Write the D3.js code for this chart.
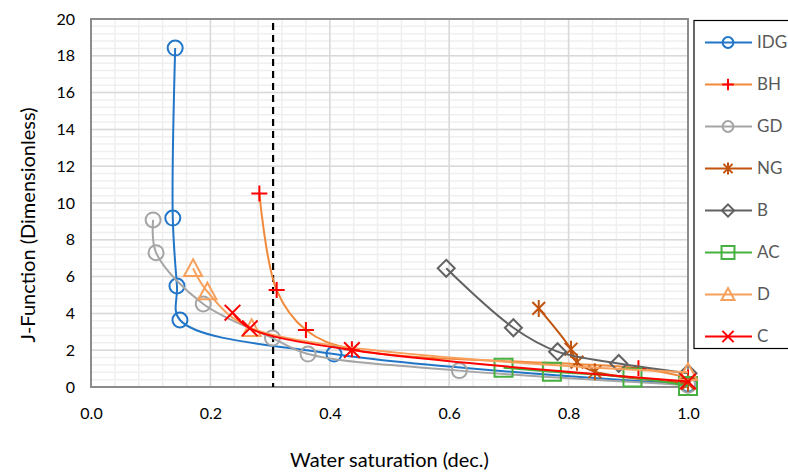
<!DOCTYPE html>
<html>
<head>
<meta charset="utf-8">
<script src="https://cdn.jsdelivr.net/npm/d3@7"></script>
<style>
    body { margin: 0; background: #fff; }
    svg { display: block; font-family: Lato, "Open Sans", sans-serif; }
</style>
</head>
<body>
<div id="wrapper"></div>
<script>
// tick labels
const xTickValues = [0, 0.2, 0.4, 0.6, 0.8, 1.0]
const yTickValues = [0, 2, 4, 6, 8, 10, 12, 14, 16, 18, 20]

// [water saturation, J-function]
const IDG = [[0.141, 18.42], [0.137, 9.18], [0.144, 5.49], [0.149, 3.64], [0.407, 1.79], [1.0, 0.15]]
const BH = [[0.282, 10.52], [0.311, 5.27], [0.360, 3.10], [0.437, 2.05], [0.917, 1.02], [1.0, 0.5]]
const GD = [[0.104, 9.08], [0.109, 7.30], [0.188, 4.51], [0.304, 2.66], [0.3635, 1.79], [0.617, 0.89], [1.0, 0.1]]
const NG = [[0.750, 4.27], [0.804, 2.05], [0.814, 1.35], [0.844, 0.83], [1.0, 0.2]]
const B = [[0.595, 6.45], [0.7075, 3.22], [0.7815, 1.92], [0.884, 1.28], [1.0, 0.75]]
const AC = [[0.691, 1.05], [0.772, 0.83], [0.907, 0.51], [1.0, 0.05]]
const D = [[0.171, 6.45], [0.195, 5.18], [0.269, 3.19], [1.0, 0.8]]
const C = [[0.237, 4.04], [0.266, 3.19], [0.437, 2.01], [1.0, 0.3]]

const cutoffSw = 0.305

const series = [
    { name: "IDG", values: IDG, line: "#2176c7", marker: "#2176c7", shape: "circle" },
    { name: "BH", values: BH, line: "#f0893a", marker: "#ff0000", shape: "plus" },
    { name: "GD", values: GD, line: "#a5a5a5", marker: "#a5a5a5", shape: "circle" },
    { name: "NG", values: NG, line: "#c0540f", marker: "#c0540f", shape: "asterisk" },
    { name: "B", values: B, line: "#626262", marker: "#626262", shape: "diamond" },
    { name: "AC", values: AC, line: "#47b041", marker: "#47b041", shape: "square" },
    { name: "D", values: D, line: "#f7a05c", marker: "#f7a05c", shape: "triangle" },
    { name: "C", values: C, line: "#ff0000", marker: "#ff0000", shape: "times" },
]

let dimensions = {
    width: 788,
    height: 472,
    margin: {
        top: 19,
        right: 100,
        bottom: 85,
        left: 91,
    }
}
dimensions.boundedWidth = dimensions.width - dimensions.margin.left - dimensions.margin.right
dimensions.boundedHeight = dimensions.height - dimensions.margin.top - dimensions.margin.bottom

const xScale = d3.scaleLinear().domain([0, 1]).range([0, dimensions.boundedWidth])
const yScale = d3.scaleLinear().domain([0, 20]).range([dimensions.boundedHeight, 0])

const markerSize = { circle: 7.5, plus: 8, asterisk: 8.5, diamond: 8.5, square: 9, triangle: 9, times: 7.8 }

function markerPath(shape, h) {
    const p = d3.path()
    if (shape == "circle") {
        p.moveTo(h, 0)
        p.arc(0, 0, h, 0, 2 * Math.PI)
    } else if (shape == "square") {
        p.rect(-h, -h, 2 * h, 2 * h)
    } else if (shape == "diamond") {
        p.moveTo(0, -h); p.lineTo(h, 0); p.lineTo(0, h); p.lineTo(-h, 0); p.closePath()
    } else if (shape == "triangle") {
        p.moveTo(0, -h); p.lineTo(h, h * 0.85); p.lineTo(-h, h * 0.85); p.closePath()
    } else if (shape == "plus") {
        p.moveTo(-h, 0); p.lineTo(h, 0); p.moveTo(0, -h); p.lineTo(0, h)
    } else if (shape == "times") {
        p.moveTo(-h, -h); p.lineTo(h, h); p.moveTo(-h, h); p.lineTo(h, -h)
    } else if (shape == "asterisk") {
        const k = h * 0.75
        p.moveTo(-k, -k); p.lineTo(k, k); p.moveTo(-k, k); p.lineTo(k, -k)
        p.moveTo(0, -h); p.lineTo(0, h)
    }
    return p.toString()
}

const wrapper = d3.select("#wrapper")
    .append("svg")
    .attr("width", dimensions.width)
    .attr("height", dimensions.height)

const bounds = wrapper.append("g")
    .attr("transform", `translate(${dimensions.margin.left}, ${dimensions.margin.top})`)

// gridlines: minor first, then major
const minorX = d3.range(0, 1.0001, 0.04)
const minorY = d3.range(0, 20.001, 0.4)

bounds.append("g").selectAll("line").data(minorX).join("line")
    .attr("x1", d => xScale(d)).attr("x2", d => xScale(d))
    .attr("y1", 0).attr("y2", dimensions.boundedHeight)
    .attr("stroke", "#efefef").attr("stroke-width", 1.5)
bounds.append("g").selectAll("line").data(minorY).join("line")
    .attr("x1", 0).attr("x2", dimensions.boundedWidth)
    .attr("y1", d => yScale(d)).attr("y2", d => yScale(d))
    .attr("stroke", "#efefef").attr("stroke-width", 1.5)

bounds.append("g").selectAll("line").data(xTickValues).join("line")
    .attr("x1", d => xScale(d)).attr("x2", d => xScale(d))
    .attr("y1", 0).attr("y2", dimensions.boundedHeight)
    .attr("stroke", "#d9d9d9").attr("stroke-width", 1.5)
bounds.append("g").selectAll("line").data(yTickValues).join("line")
    .attr("x1", 0).attr("x2", dimensions.boundedWidth)
    .attr("y1", d => yScale(d)).attr("y2", d => yScale(d))
    .attr("stroke", "#d9d9d9").attr("stroke-width", 1.5)

// plot frame
bounds.append("rect")
    .attr("width", dimensions.boundedWidth)
    .attr("height", dimensions.boundedHeight)
    .attr("fill", "none")
    .attr("stroke", "#8c8c8c")
    .attr("stroke-width", 2)

// axes (labels only)
const xAxis = bounds.append("g")
    .attr("transform", `translate(0, ${dimensions.boundedHeight})`)
    .call(d3.axisBottom(xScale).tickValues(xTickValues).tickFormat(d3.format(".1f")).tickSize(0).tickPadding(21))
const yAxis = bounds.append("g")
    .call(d3.axisLeft(yScale).tickValues(yTickValues).tickSize(0).tickPadding(16))

;[xAxis, yAxis].forEach(a => {
    a.select(".domain").remove()
    a.selectAll("text")
        .attr("font-family", "Lato, 'Open Sans', sans-serif")
        .attr("font-size", 16)
        .attr("fill", "#000")
})

// cutoff line
bounds.append("line")
    .attr("x1", xScale(cutoffSw)).attr("x2", xScale(cutoffSw))
    .attr("y1", yScale(20) + 4).attr("y2", dimensions.boundedHeight)
    .attr("stroke", "#000")
    .attr("stroke-width", 2.2)
    .attr("stroke-dasharray", "7,5")

// series
const lineGenerator = d3.line()
    .x(d => xScale(d[0]))
    .y(d => yScale(d[1]))
    .curve(d3.curveCatmullRom.alpha(0.5))

series.forEach(s => {
    const g = bounds.append("g")
    g.append("path")
        .attr("d", lineGenerator(s.values))
        .attr("fill", "none")
        .attr("stroke", s.line)
        .attr("stroke-width", 2)
    g.selectAll("path.marker").data(s.values).join("path")
        .attr("class", "marker")
        .attr("transform", d => `translate(${xScale(d[0])}, ${yScale(d[1])})`)
        .attr("d", markerPath(s.shape, markerSize[s.shape]))
        .attr("fill", "none")
        .attr("stroke", s.marker)
        .attr("stroke-width", 2)
})

// axis titles
wrapper.append("text")
    .attr("x", dimensions.margin.left + dimensions.boundedWidth / 2)
    .attr("y", 467)
    .attr("text-anchor", "middle")
    .attr("font-size", 20)
    .attr("fill", "#000")
    .text("Water saturation (dec.)")

wrapper.append("text")
    .attr("transform", `translate(35, ${dimensions.margin.top + dimensions.boundedHeight / 2 + 22}) rotate(-90)`)
    .attr("text-anchor", "middle")
    .attr("font-size", 20)
    .attr("fill", "#000")
    .text("J-Function (Dimensionless)")

// legend
const legend = wrapper.append("g")
    .attr("transform", "translate(694, 20.5)")

legend.append("rect")
    .attr("width", 120)
    .attr("height", 328)
    .attr("fill", "#fff")
    .attr("stroke", "#000")
    .attr("stroke-width", 1.2)

const legendItems = legend.selectAll("g").data(series).join("g")
    .attr("transform", (d, i) => `translate(0, ${22 + i * 42})`)

legendItems.append("line")
    .attr("x1", 11).attr("x2", 58)
    .attr("stroke", d => d.line)
    .attr("stroke-width", 2)
legendItems.append("path")
    .attr("transform", "translate(34, 0)")
    .attr("d", d => markerPath(d.shape, markerSize[d.shape] * 0.72))
    .attr("fill", "none")
    .attr("stroke", d => d.marker)
    .attr("stroke-width", 2)
legendItems.append("text")
    .attr("x", 63)
    .attr("dy", "0.35em")
    .attr("font-size", 17)
    .attr("fill", "#595959")
    .text(d => d.name)
</script>
</body>
</html>
